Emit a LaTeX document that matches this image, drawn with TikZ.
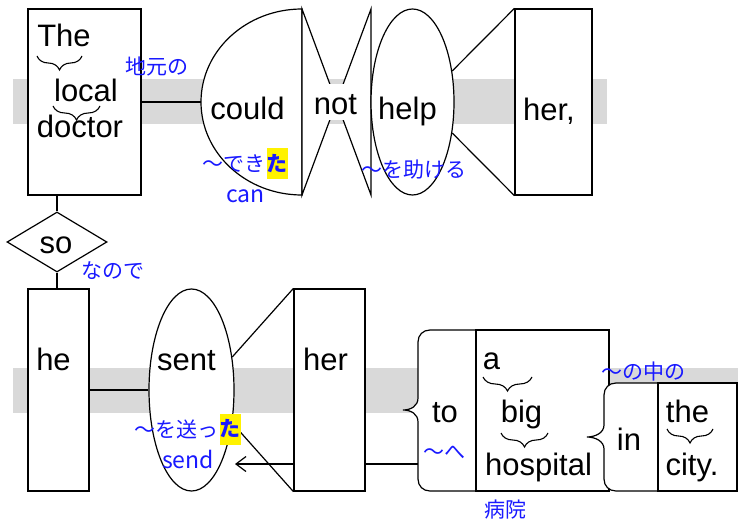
\documentclass[tikz,border=0pt]{standalone}
\usepackage{fontspec}
\setmainfont{Liberation Sans}
\newfontfamily\jp{Noto Sans CJK JP}
\usetikzlibrary{positioning,shapes,arrows.meta,decorations.pathreplacing}
\definecolor{glossblue}{RGB}{25,25,255}
\definecolor{bandgray}{RGB}{217,217,217}

\begin{document}
\begin{tikzpicture}[x=1pt,y=-1pt,line width=1.2pt,
                    word/.style={font=\fontsize{31}{36}\selectfont,inner sep=0pt,anchor=base},
                    gloss/.style={font=\jp\fontsize{21}{24}\selectfont,text=glossblue,inner sep=0pt},
                    latin/.style={gloss,font=\jp\fontsize{23}{26}\selectfont,anchor=base},
                    hl/.style={gloss,fill=yellow,font=\jp\bfseries\fontsize{21}{24}\selectfont,
                               minimum width=21pt,minimum height=31pt},
                    box/.style={draw,fill=white,rectangle,inner sep=0pt},
                    oval/.style={draw,fill=white,ellipse,inner sep=0pt},
                    under/.style={decorate,decoration={brace,mirror,amplitude=14pt},line width=1.1pt}]

      \useasboundingbox (0,0) rectangle (738,521);
      \fill[bandgray] (13,79)  rectangle (607,124);
      \fill[bandgray] (13,368) rectangle (738,413);

      \coordinate (could-w) at (201,102);
      \coordinate (sent-in) at (235,464);
      \coordinate (to-in)   at (418,464);
      \draw[-{Straight Barb[length=10pt,width=15pt]}] (to-in) -- (sent-in);

      \node[box]     (doctor) [minimum width=113pt,minimum height=186pt] at (84.5,102)  {};
      \draw[fill=white] (302,9) arc[start angle=90,end angle=270,x radius=101pt,y radius=93pt] -- cycle;
      \draw[fill=white] (302,9) -- (336.5,102) -- (302,195) -- cycle;
      \draw[fill=white] (371,9) -- (336.5,102) -- (371,195) -- cycle;
      \node[oval]    (help)   [minimum width=83pt,minimum height=186pt]  at (412.5,102) {};
      \node[box]     (her1)   [minimum width=77pt,minimum height=186pt]  at (553.5,102) {};

      \node[draw,fill=white,diamond,inner sep=0pt,minimum width=100pt,minimum height=60pt] (so) at (57,242) {};
      \node[box]     (he)     [minimum width=61pt,minimum height=202pt]  at (58.5,390)  {};
      \node[oval]    (sent)   [minimum width=85pt,minimum height=202pt]  at (191.5,390) {};
      \node[box]     (her2)   [minimum width=71pt,minimum height=202pt]  at (329.5,390) {};
      \draw[fill=white] (430,330) -- (476,330) -- (476,491) -- (430,491)
            .. controls (423,491) and (418,486) .. (418,479) -- (418,422)
            .. controls (418,414) and (411,410) .. (403,410)
            .. controls (411,410) and (418,406) .. (418,398) -- (418,342)
            .. controls (418,335) and (423,330) .. (430,330) -- cycle;
      \node[box]     (hosp)   [minimum width=133pt,minimum height=161pt] at (542.5,410.5) {};
      \draw[fill=white] (616,383) -- (658,383) -- (658,491) -- (616,491)
            .. controls (609,491) and (604,486) .. (604,479) -- (604,449)
            .. controls (604,441) and (595,437) .. (587,437)
            .. controls (595,437) and (604,433) .. (604,425) -- (604,395)
            .. controls (604,388) and (609,383) .. (616,383) -- cycle;
      \node[box]     (city)   [minimum width=79pt,minimum height=108pt]  at (697.5,437)  {};

      \path (doctor.east)        edge (could-w)
            (doctor.south -| so) edge (so.north)
            (so.south)           edge (so.south |- he.north)
            (he.east)            edge (sent.west)
            (help.38)            edge (her1.north west)
            (help.-38)           edge (her1.south west)
            (sent.39)            edge (her2.north west)
            (sent.-39)           edge (her2.south west);

      \node[word]    (w-the)    at (64,47)     {The};
      \node[word]    (w-local)  at (86,102)    {local};
      \node[word]    (w-doctor) at (80,138)    {doctor};
      \node[word]    (w-could)  at (247.5,120) {could};
      \node[word,fill=white,text height=29pt,text depth=3pt,inner sep=2pt]
                     (w-not)    at (335.5,115) {not};
      \node[word]    (w-help)   at (407.5,120) {help};
      \node[word]    (w-her1)   at (549,121)   {her,};
      \node[word]    (w-so)     at (56,253)    {so};
      \node[word]    (w-he)     at (53.5,370)  {he};
      \node[word]    (w-sent)   at (186.5,370) {sent};
      \node[word]    (w-her2)   at (325.5,370) {her};
      \node[word]    (w-to)     at (445,422)   {to};
      \node[word]    (w-a)      at (491.5,369) {a};
      \node[word]    (w-big)    at (521.5,422) {big};
      \node[word]    (w-hosp)   at (538.5,475) {hospital};
      \node[word]    (w-in)     at (629,450)   {in};
      \node[word]    (w-the2)   at (687.5,422) {the};
      \node[word]    (w-city)   at (692,475)   {city.};

      \draw[under] (37,56)   -- (82,56);
      \draw[under] (53,106)  -- (100,106);
      \draw[under] (483,377) -- (532,377);
      \draw[under] (501,433) -- (548,433);
      \draw[under] (667,429) -- (713,429);

      \node[gloss]           (g-jimoto) at (157,66)    {地元の};
      \node[gloss,anchor=east] (g-deki) at (266,164)   {～でき};
      \node[hl,right=0pt of g-deki] (g-ta1) {た};
      \node[latin]           (g-can)    at (245.5,203) {can};
      \node[gloss]           (g-tasuke) at (414,170)   {～を助ける};
      \node[gloss]           (g-node)   at (113,271)   {なので};
      \node[gloss,anchor=east] (g-oku)  at (219,429)   {～を送っ};
      \node[hl,right=0pt of g-oku] (g-ta2) {た};
      \node[latin]           (g-send)   at (188,468)   {send};
      \node[gloss]           (g-he)     at (444,453)   {～へ};
      \node[gloss]           (g-byoin)  at (505,510)   {病院};
      \node[gloss]           (g-naka)   at (643,372)   {～の中の};
\end{tikzpicture}
\end{document}
